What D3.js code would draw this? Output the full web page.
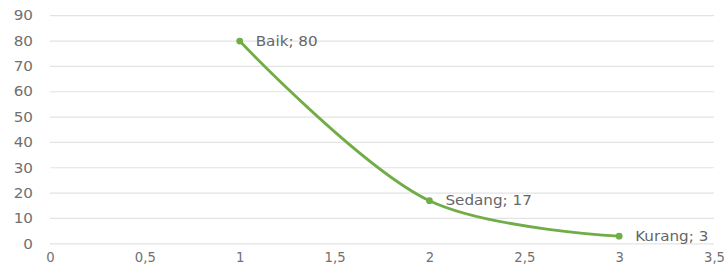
<!DOCTYPE html>
<html><head><meta charset="utf-8">
<script src="https://cdn.jsdelivr.net/npm/d3@7"></script>
<style>body{margin:0;background:#fff}svg{display:block}</style>
</head><body>
<svg id="c" width="726" height="273"></svg>
<script>
const categories = ["Baik", "Sedang", "Kurang"];
const xValues = [1, 2, 3];
const yValues = [80, 17, 3];
const xTicks = [0, 0.5, 1, 1.5, 2, 2.5, 3, 3.5];
const yTicks = [0, 10, 20, 30, 40, 50, 60, 70, 80, 90];

const svg = d3.select("#c");
const font = "'DejaVu Sans', sans-serif";
const fs = 13.2;
const sx = 1.15;
const x = d3.scaleLinear().domain([0, 3.5]).range([50, 714]);
const y = d3.scaleLinear().domain([0, 90]).range([243.8, 15.7]);
const fmt = d => String(d).replace(".", ",");

// gridlines
svg.append("g").selectAll("line").data(yTicks).join("line")
  .attr("x1", x(0)).attr("x2", x(3.5))
  .attr("y1", d => y(d)).attr("y2", d => y(d))
  .attr("stroke", "#e3e3e3").attr("stroke-width", 1.2);

// y axis labels
const ya = d3.axisLeft(y).tickValues(yTicks).tickSize(0).tickPadding(0).tickFormat(fmt);
svg.append("g").attr("transform", "translate(33,0)").call(ya)
  .call(g => g.select(".domain").remove())
  .selectAll("text").attr("x", 0).attr("font-family", font).attr("font-size", fs).attr("fill", "#707070")
  .attr("transform", `scale(${sx},1)`);

// x axis labels
const xa = d3.axisBottom(x).tickValues(xTicks).tickSize(0).tickPadding(0).tickFormat(fmt);
svg.append("g").attr("transform", "translate(0,253)").call(xa)
  .call(g => g.select(".domain").remove())
  .selectAll("text").attr("font-family", font).attr("font-size", fs).attr("fill", "#707070");

const pts = xValues.map((v, i) => ({x: v, y: yValues[i], c: categories[i]}));
const line = d3.line().x(d => x(d.x)).y(d => y(d.y)).curve(d3.curveCatmullRom.alpha(0.5));
svg.append("path").attr("d", line(pts)).attr("fill", "none")
  .attr("stroke", "#70ad47").attr("stroke-width", 2.8).attr("stroke-linecap", "round");

svg.append("g").selectAll("circle").data(pts).join("circle")
  .attr("cx", d => x(d.x)).attr("cy", d => y(d.y)).attr("r", 3.4).attr("fill", "#70ad47");

svg.append("g").selectAll("text").data(pts).join("text")
  .attr("transform", d => `translate(${x(d.x) + 16},${y(d.y)}) scale(${sx},1)`)
  .attr("dy", "0.35em")
  .attr("font-family", font).attr("font-size", fs).attr("fill", "#666")
  .text(d => d.c + "; " + d.y);
</script>
</body></html>
